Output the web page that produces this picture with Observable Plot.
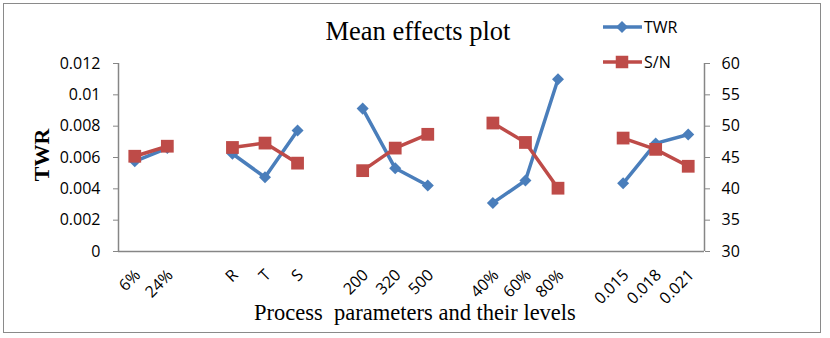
<!DOCTYPE html>
<html>
<head>
<meta charset="utf-8">
<script src="https://cdn.jsdelivr.net/npm/d3@7"></script>
<script src="https://cdn.jsdelivr.net/npm/@observablehq/plot@0.6"></script>
<style>
  body { margin: 0; background: #fff; }
  #wrap { position: relative; width: 830px; height: 338px; overflow: hidden; background: #fff; }
  #border { position: absolute; left: 3px; top: 3px; width: 818px; height: 330px; border: 1.5px solid #8a8a8a; box-sizing: border-box; }
  .serif { font-family: "Liberation Serif", "DejaVu Serif", serif; color: #000; position: absolute; white-space: pre; line-height: 1.15; }
  #title { left: 0; width: 836px; text-align: center; top: 16px; font-size: 26.5px; }
  #xtitle { left: 0; width: 830px; text-align: center; top: 300px; font-size: 22.5px; }
  #ytitle { left: 42px; top: 155px; font-size: 22px; font-weight: bold; transform: translate(-50%, -50%) rotate(-90deg); }
  svg { position: absolute; left: 0; top: 0; }
</style>
</head>
<body>
<div id="wrap">
  <div id="border"></div>
  <div id="title" class="serif">Mean effects plot</div>
  <div id="xtitle" class="serif">Process  parameters and their levels</div>
  <div id="ytitle" class="serif">TWR</div>
</div>
<script>
const categories = ["6%","24%","","R","T","S","","200","320","500","","40%","60%","80%","","0.015","0.018","0.021"];
const twr = [0.00576,0.0066,null,0.00624,0.00474,0.00773,null,0.00912,0.00531,0.00421,null,0.0031,0.00453,0.011,null,0.00435,0.0069,0.00747];
const sn  = [45.2,46.8,null,46.6,47.3,44.1,null,42.9,46.5,48.7,null,50.5,47.4,40.1,null,48.1,46.3,43.6];
const leftTicks = [0,0.002,0.004,0.006,0.008,0.01,0.012];
const rightTicks = [30,35,40,45,50,55,60];
const seriesNames = ["TWR","S/N"];
const seriesColors = ["#4A7EBB","#BE4B48"];

const snMin = 30, snMax = 60, yMax = 0.012;
const toLeft = v => (v - snMin) / (snMax - snMin) * yMax;
const rows = categories.map((c, i) => ({
  i, c,
  twr: twr[i] == null ? NaN : twr[i],
  sn: sn[i] == null ? NaN : toLeft(sn[i])
}));

const axisGray = "#868686";
const chart = Plot.plot({
  width: 830, height: 338,
  marginLeft: 118, marginRight: 126, marginTop: 63, marginBottom: 87,
  x: {type: "linear", domain: [-0.5, categories.length - 0.5]},
  y: {domain: [0, yMax]},
  style: {fontFamily: "'Open Sans', sans-serif", fontSize: "16px", color: "#000", background: "transparent"},
  marks: [
    Plot.axisY({anchor: "left", ticks: leftTicks, tickFormat: v => String(+v.toFixed(3)), tickSize: 5, tickPadding: 13, label: null, stroke: axisGray, fill: "#000"}),
    Plot.axisY({anchor: "right", ticks: rightTicks.map(toLeft), tickFormat: v => String(Math.round(v / yMax * (snMax - snMin) + snMin)), tickSize: 5, tickPadding: 12, label: null, stroke: axisGray, fill: "#000"}),
    Plot.axisX({ticks: d3.range(categories.length), tickFormat: i => categories[i], tickRotate: -45, tickSize: 0, tickPadding: 21, dx: 3, label: null, fill: "#000"}),
    Plot.ruleY([0], {stroke: axisGray, strokeWidth: 1.5}),
    Plot.ruleX([-0.5, categories.length - 0.5], {stroke: axisGray, strokeWidth: 1.5}),
    Plot.line(rows, {x: "i", y: "twr", stroke: seriesColors[0], strokeWidth: 3.5}),
    Plot.dot(rows.filter(d => !isNaN(d.twr)), {x: "i", y: "twr", symbol: "square", rotate: 45, r: 4.8, fill: seriesColors[0], stroke: "none"}),
    Plot.line(rows, {x: "i", y: "sn", stroke: seriesColors[1], strokeWidth: 3.5}),
    Plot.dot(rows.filter(d => !isNaN(d.sn)), {x: "i", y: "sn", symbol: "square", r: 7.2, fill: seriesColors[1], stroke: "none"})
  ]
});
document.getElementById("wrap").appendChild(chart);

// legend
const ns = "http://www.w3.org/2000/svg";
const leg = document.createElementNS(ns, "svg");
leg.setAttribute("width", 830); leg.setAttribute("height", 338);
leg.style.pointerEvents = "none";
seriesNames.forEach((name, k) => {
  const y = 27 + k * 35;
  const line = document.createElementNS(ns, "line");
  line.setAttribute("x1", 603); line.setAttribute("x2", 642);
  line.setAttribute("y1", y); line.setAttribute("y2", y);
  line.setAttribute("stroke", seriesColors[k]); line.setAttribute("stroke-width", 3.5);
  leg.appendChild(line);
  const m = document.createElementNS(ns, "rect");
  const s = k === 0 ? 8.5 : 12.5;
  m.setAttribute("x", 622 - s / 2); m.setAttribute("y", y - s / 2);
  m.setAttribute("width", s); m.setAttribute("height", s);
  m.setAttribute("fill", seriesColors[k]);
  if (k === 0) m.setAttribute("transform", `rotate(45 622 ${y})`);
  leg.appendChild(m);
  const t = document.createElementNS(ns, "text");
  t.setAttribute("x", 644); t.setAttribute("y", y + 6);
  t.setAttribute("font-family", "'Open Sans', sans-serif");
  t.setAttribute("font-size", 16);
  t.textContent = name;
  leg.appendChild(t);
});
document.getElementById("wrap").appendChild(leg);
</script>
</body>
</html>
